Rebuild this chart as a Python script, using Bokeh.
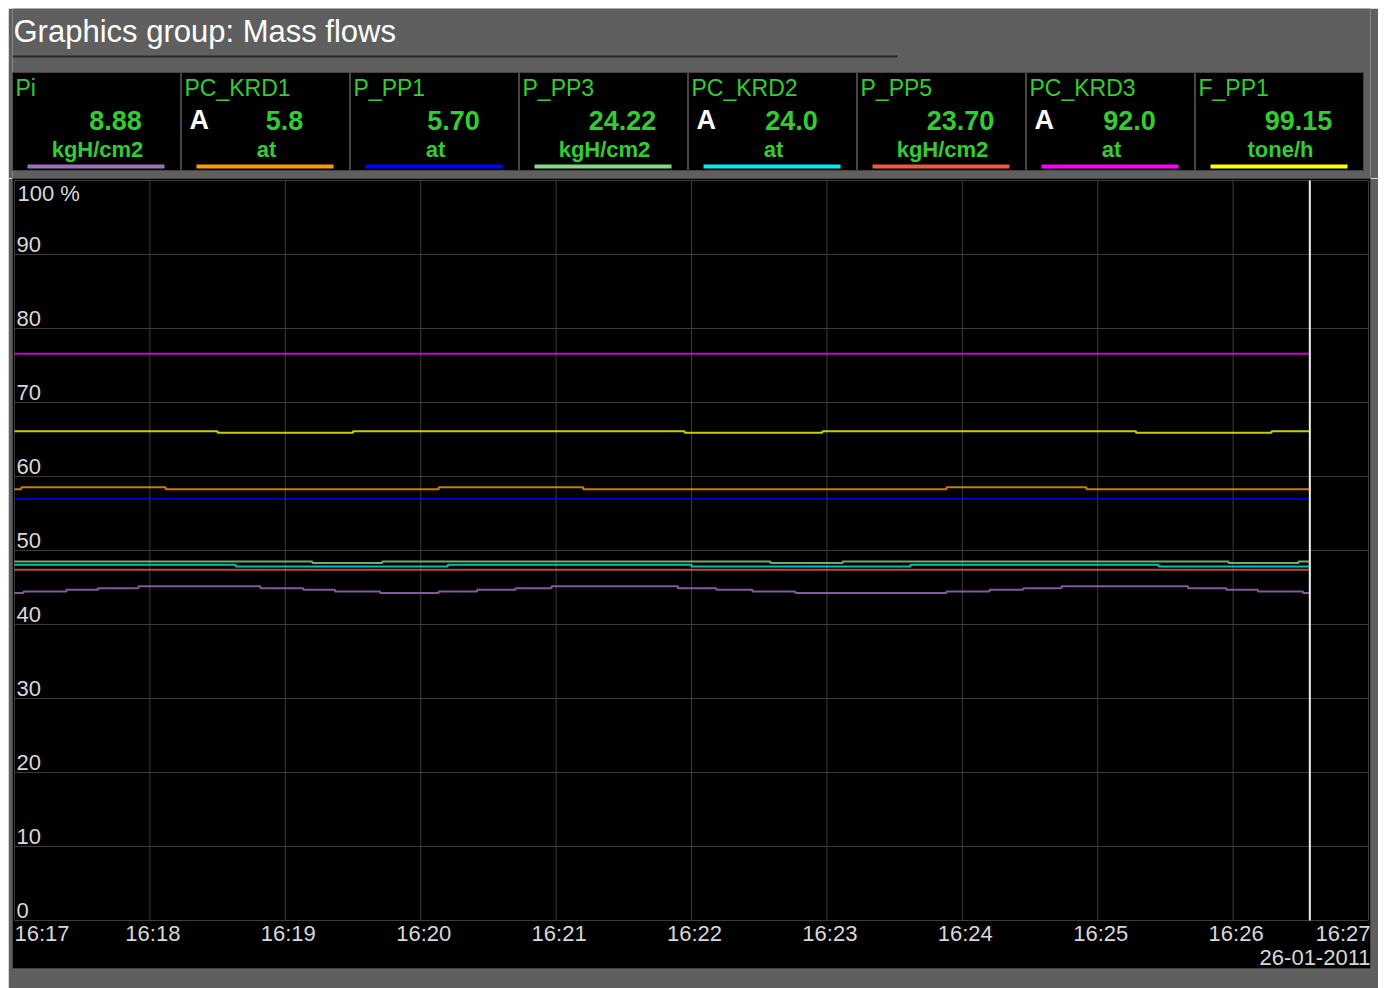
import pandas as pd
from bokeh.plotting import figure
from bokeh.layouts import column
from bokeh.models import Range1d, ColumnDataSource
from bokeh.core.properties import value
from bokeh.embed import file_html
from bokeh.resources import INLINE

# ---------------- data ----------------
TITLE = "Graphics group: Mass flows"
DATE = "2011-01-26"
DATE_LABEL = "26-01-2011"

names = ["Pi", "PC_KRD1", "P_PP1", "P_PP3", "PC_KRD2", "P_PP5", "PC_KRD3", "F_PP1"]
current_values = ["8.88", "5.8", "5.70", "24.22", "24.0", "23.70", "92.0", "99.15"]
units = ["kgH/cm2", "at", "at", "kgH/cm2", "at", "kgH/cm2", "at", "tone/h"]
modes = ["", "A", "", "", "A", "", "A", ""]
colors = ["#a070c0", "#ff9900", "#0000ff", "#88d888", "#00eeee", "#f05a3c", "#ff00ff", "#ffff00"]

# trend data (percent of scale), step changes
pi_times = ["16:17:00", "16:17:04", "16:17:23", "16:17:37", "16:17:55", "16:18:49", "16:19:08",
            "16:19:22", "16:19:42", "16:20:08", "16:20:25", "16:20:42", "16:20:58", "16:21:54",
            "16:22:11", "16:22:27", "16:22:46", "16:23:53", "16:24:12", "16:24:27", "16:24:44",
            "16:25:40", "16:25:57", "16:26:11", "16:26:31"]
pi_values = [44.27, 44.46, 44.68, 44.91, 45.18, 44.91, 44.68,
             44.46, 44.27, 44.46, 44.68, 44.91, 45.18, 44.91,
             44.68, 44.46, 44.27, 44.46, 44.68, 44.91, 45.18,
             44.91, 44.68, 44.46, 44.27]

pc_krd1_times = ["16:17:00", "16:17:03", "16:18:07", "16:20:08", "16:21:12", "16:23:53", "16:24:55"]
pc_krd1_values = [58.28, 58.55, 58.28, 58.55, 58.28, 58.55, 58.28]

p_pp1_times = ["16:17:00"]
p_pp1_values = [57.0]

p_pp3_times = ["16:17:00", "16:19:12", "16:19:43", "16:22:35", "16:23:07", "16:25:58", "16:26:29"]
p_pp3_values = [48.5, 48.3, 48.5, 48.3, 48.5, 48.3, 48.5]

pc_krd2_times = ["16:17:00", "16:18:38", "16:20:12", "16:22:00", "16:23:37", "16:25:27"]
pc_krd2_values = [48.06, 47.84, 48.06, 47.84, 48.06, 47.84]

p_pp5_times = ["16:17:00"]
p_pp5_values = [47.4]

pc_krd3_times = ["16:17:00"]
pc_krd3_values = [76.6]

f_pp1_times = ["16:17:00", "16:18:30", "16:19:30", "16:21:57", "16:22:58", "16:25:17", "16:26:17"]
f_pp1_values = [66.1, 65.9, 66.1, 65.9, 66.1, 65.9, 66.1]

cursor_time = "16:26:34"
x_ticks = ["16:17", "16:18", "16:19", "16:20", "16:21", "16:22", "16:23", "16:24", "16:25", "16:26", "16:27"]
y_ticks = [0, 10, 20, 30, 40, 50, 60, 70, 80, 90, 100]
y_tick_labels = ["0", "10", "20", "30", "40", "50", "60", "70", "80", "90", "100 %"]

series_times = [pi_times, pc_krd1_times, p_pp1_times, p_pp3_times, pc_krd2_times, p_pp5_times, pc_krd3_times, f_pp1_times]
series_values = [pi_values, pc_krd1_values, p_pp1_values, p_pp3_values, pc_krd2_values, p_pp5_values, pc_krd3_values, f_pp1_values]

# ---------------- styles ----------------
FONT = "Liberation Sans"
GREY = "#5f5f5f"
GREEN = "#33cc33"
GRID = "#3c3c3c"
W = 1370
FRAME_W = 1358
BORDER_L = 4
BORDER_R = W - BORDER_L - FRAME_W


def ts(t):
    if t.count(":") == 1:
        t = t + ":00"
    return pd.Timestamp(f"{DATE} {t}")


# ---------------- header ----------------
H_HEIGHT = 170
hdr = figure(width=W, height=H_HEIGHT,
             x_range=Range1d(BORDER_L, BORDER_L + FRAME_W), y_range=Range1d(H_HEIGHT, 0),
             output_backend="svg", toolbar_location=None,
             x_axis_location=None, y_axis_location=None,
             min_border_left=BORDER_L, min_border_right=BORDER_R,
             min_border_top=0, min_border_bottom=0)
hdr.background_fill_color = GREY
hdr.border_fill_color = GREY
hdr.outline_line_color = None
hdr.xgrid.visible = False
hdr.ygrid.visible = False

hdr.text(x=[5], y=[23], text=[TITLE], text_font=value(FONT), text_font_size="31px",
         text_color="#ffffff", text_baseline="middle", text_align="left")
hdr.segment(x0=[4], y0=[48], x1=[889], y1=[48], line_color="#2a2a2a", line_width=2)

PITCH = 169
lefts = [4 + i * PITCH for i in range(len(names))]
box_src = ColumnDataSource(dict(
    left=lefts, right=[l + 168 for l in lefts],
    name_x=[l + 3 for l in lefts], val_x=[l + 103 for l in lefts],
    unit_x=[l + 85 for l in lefts], mode_x=[l + 8 for l in lefts],
    bar_l=[l + 15 for l in lefts], bar_r=[l + 152 for l in lefts],
    name=names, val=current_values, unit=units, mode=modes, color=colors,
))
hdr.quad(left="left", right="right", top=64, bottom=162, source=box_src,
         fill_color="#000000", line_color="#454545", line_width=1)
hdr.text(x="name_x", y=79, text="name", source=box_src, text_font=value(FONT),
         text_font_size="23px", text_color=GREEN, text_baseline="middle", text_align="left")
hdr.text(x="mode_x", y=111.5, text="mode", source=box_src, text_font=value(FONT),
         text_font_size="27px", text_font_style="bold", text_color="#ffffff",
         text_baseline="middle", text_align="left")
hdr.text(x="val_x", y=111.5, text="val", source=box_src, text_font=value(FONT),
         text_font_size="27px", text_font_style="bold", text_color=GREEN,
         text_baseline="middle", text_align="center")
hdr.text(x="unit_x", y=141, text="unit", source=box_src, text_font=value(FONT),
         text_font_size="22px", text_font_style="bold", text_color=GREEN,
         text_baseline="middle", text_align="center")
hdr.quad(left="bar_l", right="bar_r", top=156, bottom=160, source=box_src,
         fill_color="color", line_color=None)

# ---------------- chart ----------------
C_HEIGHT = 810
FRAME_H = 790
t_first = ts(x_ticks[0])
t_last = ts(x_ticks[-1])
span_ms = (t_last - t_first).total_seconds() * 1000.0
px_per_ms = (FRAME_W - 4) / span_ms
pad = pd.Timedelta(milliseconds=2 / px_per_ms)
px_per_unit = (FRAME_H - 50) / (y_ticks[-1] - y_ticks[0])
y_top = y_ticks[-1] + 2 / px_per_unit
y_bot = y_ticks[0] - 48 / px_per_unit

p = figure(width=W, height=C_HEIGHT, x_axis_type="datetime",
           x_range=Range1d(t_first - pad, t_last + pad), y_range=Range1d(y_bot, y_top),
           output_backend="svg", toolbar_location=None,
           x_axis_location=None, y_axis_location=None,
           min_border_left=BORDER_L, min_border_right=BORDER_R,
           min_border_top=0, min_border_bottom=C_HEIGHT - FRAME_H)
p.background_fill_color = "#000000"
p.border_fill_color = GREY
p.outline_line_color = "#444444"
p.xgrid.visible = False
p.ygrid.visible = False

xt = [ts(t) for t in x_ticks]
# grid
p.segment(x0=xt, y0=[y_ticks[0]] * len(xt), x1=xt, y1=[y_ticks[-1]] * len(xt),
          line_color=GRID, line_width=1)
p.segment(x0=[t_first] * len(y_ticks), y0=y_ticks, x1=[t_last] * len(y_ticks), y1=y_ticks,
          line_color=GRID, line_width=1)

# y labels (inside plot, just above gridlines)
p.text(x=[t_first] * (len(y_ticks) - 1), y=y_ticks[:-1], text=y_tick_labels[:-1],
       text_font=value(FONT), text_font_size="22px", text_color="#d8d8d8",
       text_align="left", text_baseline="middle", x_offset=2, y_offset=-10)
p.text(x=[t_first], y=[y_ticks[-1]], text=[y_tick_labels[-1]],
       text_font=value(FONT), text_font_size="22px", text_color="#d8d8d8",
       text_align="left", text_baseline="middle", x_offset=3, y_offset=13)

# series
t_end = ts(cursor_time)
for times, vals, col in zip(series_times, series_values, colors):
    xs = [ts(t) for t in times] + [t_end]
    ys = list(vals) + [vals[-1]]
    p.step(x=xs, y=ys, mode="after", line_color=col, line_width=2, line_alpha=0.8)

# cursor
p.segment(x0=[t_end], y0=[y_ticks[0]], x1=[t_end], y1=[y_ticks[-1]], line_color="#f0f0f0", line_width=2)

# x labels
lab_y = y_ticks[0] - 13 / px_per_unit
p.text(x=[xt[0]], y=[lab_y], text=[x_ticks[0]], text_font=value(FONT), text_font_size="22px",
       text_color="#d8d8d8", text_align="left", text_baseline="middle", x_offset=0)
p.text(x=xt[1:-1], y=[lab_y] * (len(xt) - 2), text=x_ticks[1:-1], text_font=value(FONT),
       text_font_size="22px", text_color="#d8d8d8", text_align="center", text_baseline="middle",
       x_offset=3)
p.text(x=[xt[-1]], y=[lab_y], text=[x_ticks[-1]], text_font=value(FONT), text_font_size="22px",
       text_color="#d8d8d8", text_align="right", text_baseline="middle", x_offset=2)
date_y = y_ticks[0] - 37 / px_per_unit
p.text(x=[xt[-1]], y=[date_y], text=[DATE_LABEL], text_font=value(FONT), text_font_size="22px",
       text_color="#d8d8d8", text_align="right", text_baseline="middle", x_offset=2)

layout = column(hdr, p, spacing=0, margin=(8, 0, 0, 8))
open("out.html", "w").write(file_html(layout, INLINE))
